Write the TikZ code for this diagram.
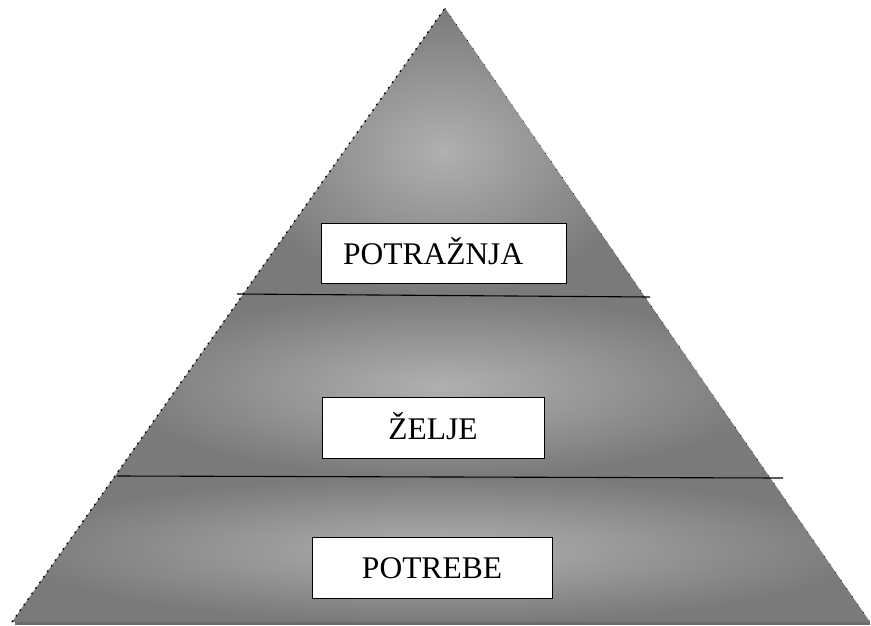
\documentclass[tikz,border=0pt]{standalone}
\usepackage{fontspec}
\setmainfont{Liberation Serif}
\usetikzlibrary{calc}

\begin{document}
\begin{tikzpicture}[x=1pt,y=-1pt,
band/.style = {shading=radial, inner color=black!31, outer color=black!52},
lbl/.style = {draw=black, fill=white, line width=1pt, inner sep=0pt,
            minimum height=#1, text height=22pt, text depth=0pt,
            font=\fontsize{31.5}{36}\selectfont},
lbl/.default = 61pt  % height of the text boxes
                ]
    \useasboundingbox (0,0) rectangle (871,625);
    \coordinate (top) at (445,8);
    \coordinate (bl) at (12,622);
    \coordinate (br) at (870,622);
    \def\ta{0.4674}
    \def\tb{0.7638}
    \coordinate (la) at ($(top)!\ta!(bl)$);
    \coordinate (ra) at ($(top)!\ta!(br)$);
    \coordinate (lb) at ($(top)!\tb!(bl)$);
    \coordinate (rb) at ($(top)!\tb!(br)$);

    % the three layers
    \shade[band] (top) -- (la) -- (ra) -- cycle;
    \shade[band] (la) -- (lb) -- (rb) -- (ra) -- cycle;
    \shade[band] (lb) -- (bl) -- (br) -- (rb) -- cycle;

    % outline
    \draw[black, line width=1.3pt, dash pattern=on 1.8pt off 5pt] (bl) -- (top);
    \draw[black, line width=0.7pt, dash pattern=on 0.8pt off 9pt] (top) -- (br);
    \draw[black!58, line width=3pt] ($(bl)+(3,1.5)$) -- ($(br)+(0,1.5)$);

    % dividing lines
    \coordinate (ua) at (237,294);
    \coordinate (ub) at (650,297);
    \coordinate (va) at (117,476);
    \coordinate (vb) at (783,478);
    \draw[black, line width=1.1pt] (ua) -- (ub);
    \draw[black, line width=1.1pt] (va) -- (vb);

    % labels
    \node[lbl=60pt, text width=201pt, align=left, inner xsep=22pt] at (443.5,253) (demand) {POTRAŽNJA};
    \foreach \x/\y/\w/\t/\n in {433/428/222/ŽELJE/wants, 432/567.5/240/POTREBE/needs}
        \node[lbl, minimum width=\w pt, align=center] at (\x,\y) (\n) {\t};
\end{tikzpicture}
\end{document}
